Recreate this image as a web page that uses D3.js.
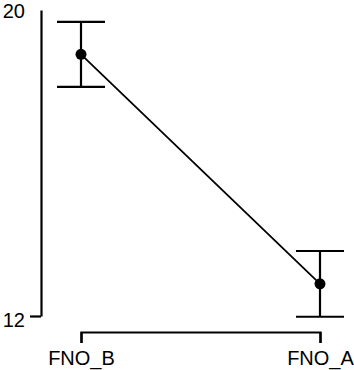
<!DOCTYPE html>
<html>
<head>
<meta charset="utf-8">
<script src="https://cdn.jsdelivr.net/npm/d3@7"></script>
<style>
  body { margin: 0; background: #fff; }
  svg text { font-family: 'Liberation Sans', Arial, sans-serif; fill: #000; }
</style>
</head>
<body>
<div id="chart"></div>
<script>
// data
const groups = ['FNO_B', 'FNO_A'];
const means = [18.84, 12.84];
const errors = [0.85, 0.86];
const yTicks = [12, 20];

const width = 354;
const height = 370;

const svg = d3.select('#chart')
  .append('svg')
    .attr('width', width)
    .attr('height', height);

const scaleY = d3.scaleLinear()
  .domain([12, 20])
  .range([316, 10]);

const scaleX = d3.scalePoint()
  .domain(groups)
  .range([81, 320]);

// y axis
const yAxis = d3.axisLeft(scaleY)
  .tickValues(yTicks)
  .tickSize(11)
  .tickSizeOuter(0)
  .tickPadding(5)
  .tickFormat(d3.format('d'));

const yG = svg.append('g')
  .attr('transform', 'translate(41,0)')
  .call(yAxis);

yG.select('.domain').attr('stroke', '#000').attr('stroke-width', 2.2);
yG.selectAll('.tick line')
  .attr('stroke', '#000')
  .attr('stroke-width', 2.2)
  .attr('opacity', d => d === 20 ? 0 : 1);
yG.selectAll('.tick text')
  .attr('font-size', 20)
  .attr('dy', d => d === 12 ? '0.52em' : '0.36em');

// x axis (bracket style)
const xAxis = d3.axisBottom(scaleX)
  .tickSize(11)
  .tickSizeOuter(11)
  .tickPadding(8);

const xG = svg.append('g')
  .attr('transform', 'translate(0,332)')
  .call(xAxis);

xG.select('.domain').attr('stroke', '#000').attr('stroke-width', 2.2);
xG.selectAll('.tick line').attr('stroke', '#000').attr('stroke-width', 2.2);
xG.selectAll('.tick text').attr('font-size', 20);

const points = groups.map((g, i) => ({ group: g, mean: means[i], err: errors[i] }));

// connecting line
svg.append('path')
  .datum(points)
  .attr('fill', 'none')
  .attr('stroke', '#000')
  .attr('stroke-width', 1.8)
  .attr('d', d3.line()
    .x(d => scaleX(d.group))
    .y(d => scaleY(d.mean)));

// error bars
const capHalf = 24;
const bars = svg.append('g').attr('stroke', '#000').attr('stroke-width', 2.2);

bars.selectAll('line.stem')
  .data(points)
  .enter()
  .append('line')
  .attr('class', 'stem')
  .attr('x1', d => scaleX(d.group))
  .attr('x2', d => scaleX(d.group))
  .attr('y1', d => scaleY(d.mean + d.err))
  .attr('y2', d => scaleY(d.mean - d.err));

bars.selectAll('line.capTop')
  .data(points)
  .enter()
  .append('line')
  .attr('class', 'capTop')
  .attr('x1', d => scaleX(d.group) - capHalf)
  .attr('x2', d => scaleX(d.group) + capHalf)
  .attr('y1', d => scaleY(d.mean + d.err))
  .attr('y2', d => scaleY(d.mean + d.err));

bars.selectAll('line.capBottom')
  .data(points)
  .enter()
  .append('line')
  .attr('class', 'capBottom')
  .attr('x1', d => scaleX(d.group) - capHalf)
  .attr('x2', d => scaleX(d.group) + capHalf)
  .attr('y1', d => scaleY(d.mean - d.err))
  .attr('y2', d => scaleY(d.mean - d.err));

// means
svg.selectAll('circle.mean')
  .data(points)
  .enter()
  .append('circle')
  .attr('class', 'mean')
  .attr('r', 5.5)
  .attr('cx', d => scaleX(d.group))
  .attr('cy', d => scaleY(d.mean))
  .attr('fill', '#000');
</script>
</body>
</html>
